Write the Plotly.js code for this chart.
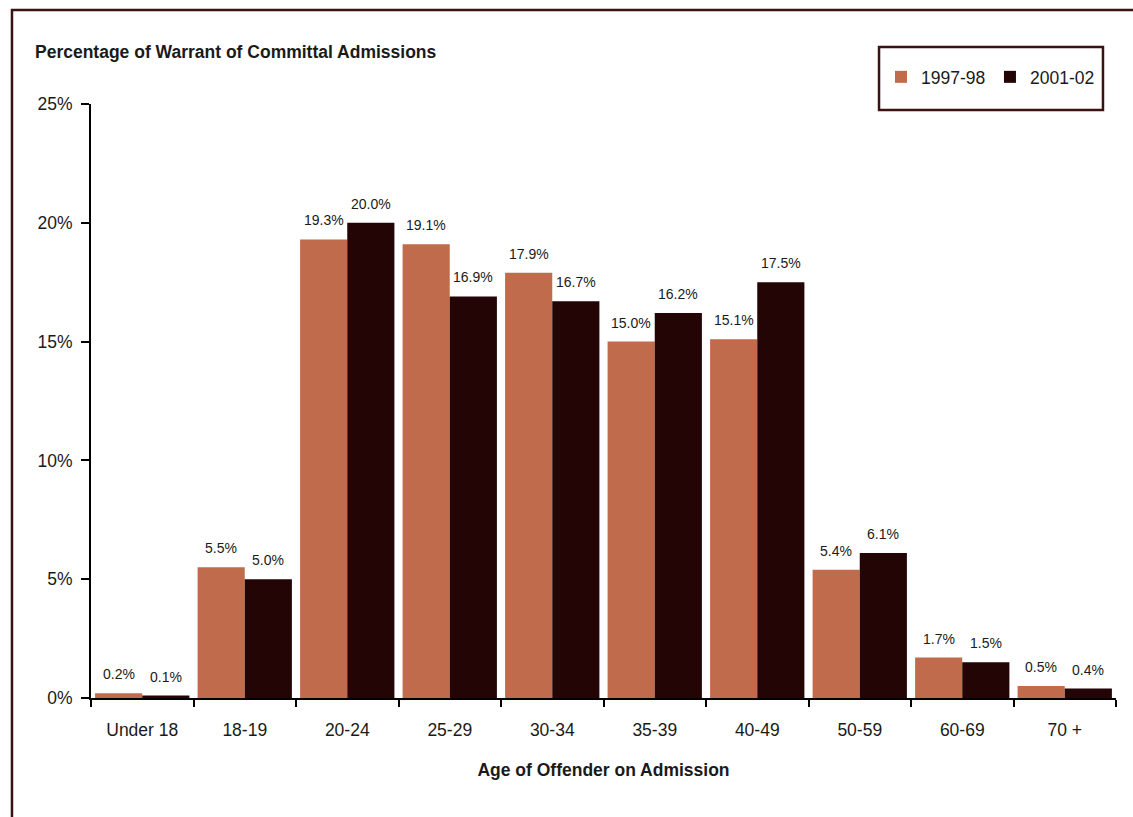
<!DOCTYPE html>
<html>
<head>
<meta charset="utf-8">
<script src="https://cdn.plot.ly/plotly-3.0.1.min.js"></script>
<style>
  html, body { margin: 0; padding: 0; background: #ffffff; }
  #chart { width: 1133px; height: 817px; }
</style>
</head>
<body>
<div id="chart"></div>
<script>
// Age groups of offenders on admission
const ageGroups = ['Under 18', '18-19', '20-24', '25-29', '30-34', '35-39', '40-49', '50-59', '60-69', '70 +'];
// Share of warrant of committal admissions (%)
const share1997 = [0.2, 5.5, 19.3, 19.1, 17.9, 15.0, 15.1, 5.4, 1.7, 0.5];
const share2001 = [0.1, 5.0, 20.0, 16.9, 16.7, 16.2, 17.5, 6.1, 1.5, 0.4];
const seriesNames = ['1997-98', '2001-02'];
const yTicks = [0, 5, 10, 15, 20, 25];

const FONT = '"Liberation Sans", Arial, Helvetica, sans-serif';
const TEXT = '#1a1a1a';
const ORANGE = '#c06b4c';
const MAROON = '#240505';
const FRAME = '#3a1212';

const BARGAP = 0.08;
const PLOT_W = 1025;
const halfBar = (PLOT_W / ageGroups.length) * (1 - BARGAP) / 4;

const traces = [
  { type: 'bar', name: seriesNames[0], x: ageGroups, y: share1997,
    marker: { color: ORANGE, line: { width: 0 } }, hoverinfo: 'skip' },
  { type: 'bar', name: seriesNames[1], x: ageGroups, y: share2001,
    marker: { color: MAROON, line: { width: 0 } }, hoverinfo: 'skip' }
];

// value labels above each bar
const labels = [];
[share1997, share2001].forEach((vals, s) => {
  vals.forEach((v, i) => {
    labels.push({
      x: ageGroups[i], y: v, xref: 'x', yref: 'y',
      text: v.toFixed(1) + '%', showarrow: false,
      xshift: s === 0 ? -halfBar : halfBar, yshift: 19,
      font: { family: FONT, size: 14, color: TEXT }
    });
  });
});

labels.push({
  x: -0.0566, y: 1.0875, xref: 'paper', yref: 'paper',
  xanchor: 'left', yanchor: 'middle', showarrow: false,
  text: '<b>Percentage of Warrant of Committal Admissions</b>',
  font: { family: FONT, size: 17.5, color: TEXT }
});

const layout = {
  width: 1133, height: 817,
  margin: { l: 91, r: 17, t: 104, b: 119 },
  paper_bgcolor: '#ffffff', plot_bgcolor: '#ffffff',
  barmode: 'group', bargap: BARGAP, bargroupgap: 0,
  font: { family: FONT, size: 17.5, color: TEXT },
  xaxis: {
    type: 'category', showgrid: false, zeroline: false,
    showline: true, linecolor: '#000', linewidth: 2,
    ticks: 'outside', tickson: 'boundaries', ticklen: 7, tickwidth: 2, tickcolor: '#000',
    ticklabelstandoff: 15,
    tickfont: { family: FONT, size: 17.5, color: TEXT },
    title: { text: '<b>Age of Offender on Admission</b>', standoff: 25,
             font: { family: FONT, size: 17.5, color: TEXT } }
  },
  yaxis: {
    range: [0, 25], tickvals: yTicks, ticktext: yTicks.map(t => t + '%'),
    showgrid: false, zeroline: false,
    showline: true, linecolor: '#000', linewidth: 2,
    ticks: 'outside', ticklen: 8, tickwidth: 2, tickcolor: '#000',
    ticklabelstandoff: 5,
    tickfont: { family: FONT, size: 17.5, color: TEXT }
  },
  showlegend: true,
  legend: {
    orientation: 'h', x: 0.7707, xanchor: 'left', y: 1.0455, yanchor: 'middle',
    bgcolor: 'rgba(0,0,0,0)', borderwidth: 0,
    entrywidth: 64, entrywidthmode: 'pixels',
    font: { family: FONT, size: 17.5, color: TEXT }
  },
  annotations: labels,
  shapes: [
    // outer frame
    { type: 'rect', xref: 'paper', yref: 'paper', x0: -0.0771, x1: 1.05, y0: -0.35, y1: 1.1582,
      line: { color: FRAME, width: 2.5 }, fillcolor: 'rgba(0,0,0,0)', layer: 'below' },
    // legend box
    { type: 'rect', xref: 'paper', yref: 'paper', x0: 0.7688, x1: 0.9873, y0: 0.9899, y1: 1.0960,
      line: { color: FRAME, width: 2.5 }, fillcolor: 'rgba(0,0,0,0)', layer: 'above' }
  ]
};

Plotly.newPlot('chart', traces, layout, { displayModeBar: false, staticPlot: true });
</script>
</body>
</html>
